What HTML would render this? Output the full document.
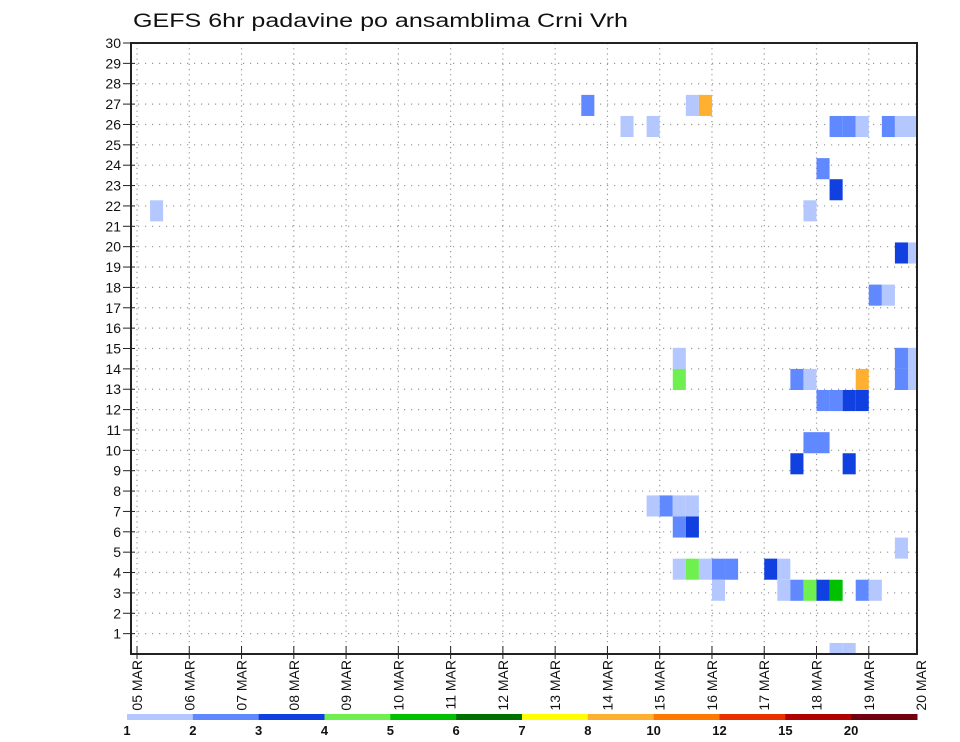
<!DOCTYPE html>
<html><head><meta charset="utf-8"><style>
html,body{margin:0;padding:0;background:#fff;}
svg{display:block;font-family:"Liberation Sans",sans-serif;}
</style></head><body>
<svg id="chart" width="960" height="742" viewBox="0 0 960 742" xmlns="http://www.w3.org/2000/svg">
<text x="133" y="27" font-size="19" textLength="495" lengthAdjust="spacingAndGlyphs" fill="#111">GEFS 6hr padavine po ansamblima Crni Vrh</text>
<g id="grid"></g>
<g id="cells"></g>
<g id="axes"></g>
<g id="legend"></g>
</svg>
<script>
// Data: dates (x ticks), member tick labels, and cells [quarterIndex(6h step from 05 MAR 00z), memberRow, level]
const dateLabels = ["05 MAR","06 MAR","07 MAR","08 MAR","09 MAR","10 MAR","11 MAR","12 MAR","13 MAR","14 MAR","15 MAR","16 MAR","17 MAR","18 MAR","19 MAR","20 MAR"];
const yTicks = [1,2,3,4,5,6,7,8,9,10,11,12,13,14,15,16,17,18,19,20,21,22,23,24,25,26,27,28,29,30];
const legendLabels = ["1","2","3","4","5","6","7","8","10","12","15","20"];
const cellSteps   = [34,42,43, 37,39,53,54,55,57,58,59, 52, 53, 51,1, 58,59, 56,57, 41,58,59, 41,58,59, 50,51,55, 52,53,54,55, 51,52, 50,54, 39,40,41,42, 41,42, 58, 41,42,43,44,45,48,49, 44,49,50,51,52,53,55,56, 53,54];
const cellMembers = [26,26,26, 25,25,25,25,25,25,25,25, 23, 22, 21,21, 19,19, 17,17, 14,14,14, 13,13,13, 13,13,13, 12,12,12,12, 10,10, 9,9, 7,7,7,7, 6,6, 5, 4,4,4,4,4,4,4, 3,3,3,3,3,3,3,3, 0,0];
const cellLevels  = [2,1,8, 1,1,2,2,1,2,1,1, 2, 3, 1,1, 3,1, 2,1, 1,2,1, 4,2,1, 2,1,8, 2,2,3,3, 2,2, 3,3, 1,2,1,1, 2,3, 1, 1,4,1,2,2,3,1, 1,1,2,4,3,5,2,1, 1,1];
const legendColors = ["#b4c8ff","#6088ff","#1040e0","#70f050","#00c000","#007000","#ffff00","#ffb030","#ff7800","#e83000","#b00000","#700010"];
const levelColor = {1:"#b4c8ff",2:"#6088ff",3:"#1040e0",4:"#70f050",5:"#00c000",6:"#007000",7:"#ffff00",8:"#ffb030",10:"#ff7800"};

const NS="http://www.w3.org/2000/svg";
const L=131,R=917,T=43,B=654;
const x0=137, dayW=52.27;
function xDay(d){return x0+d*dayW;}
function xStep(q){return xDay(q/4);}
function yVal(v){return B-v*(B-T)/30;}
const cellH=21.08;
function cellTop(m){return 390+cellH*(12-m);}
function mk(tag,attrs,parent){const e=document.createElementNS(NS,tag);for(const k in attrs)e.setAttribute(k,attrs[k]);parent.appendChild(e);return e;}

const grid=document.getElementById('grid');
yTicks.forEach(v=>{
  const l=mk('line',{x1:L,x2:R,y1:yVal(v),y2:yVal(v),stroke:"#999","stroke-width":1.2,"stroke-dasharray":"1.2 5.8"},grid);
  
  
});
dateLabels.forEach((d,i)=>{
  const x=xDay(i); if(x>R)return;
  const l=mk('line',{x1:x,x2:x,y1:T,y2:B,stroke:"#999","stroke-width":1.2,"stroke-dasharray":"1.2 4"},grid);
  
  
});

const cells=document.getElementById('cells');
const clip=mk('clipPath',{id:"plotclip"},mk('defs',{},cells));
mk('rect',{x:L,y:T,width:R-L,height:B-T},clip);
cells.setAttribute('clip-path','url(#plotclip)');
cellSteps.forEach((q,i)=>{
  const m=cellMembers[i], lv=cellLevels[i];
  const r=mk('rect',{x:xStep(q),y:cellTop(m),width:xStep(q+1)-xStep(q),height:cellH,fill:levelColor[lv]},cells);
  
  
});

const axes=document.getElementById('axes');
const frame=mk('rect',{x:L,y:T,width:R-L,height:B-T,fill:"none",stroke:"#222","stroke-width":2},axes);


yTicks.forEach(v=>{
  const y=yVal(v);
  mk('line',{x1:L-8,x2:L+4,y1:y,y2:y,stroke:"#222","stroke-width":1},axes);
  const t=mk('text',{x:L-10,y:y+5,"font-size":14,"text-anchor":"end",fill:"#111"},axes);
  t.textContent=v;
  
  
});
dateLabels.forEach((d,i)=>{
  const x=xDay(i);
  if(x<=R) mk('line',{x1:x,x2:x,y1:B-8,y2:B+5,stroke:"#222","stroke-width":1},axes);
  const t=mk('text',{x:0,y:0,"font-size":14,"text-anchor":"end",fill:"#111",transform:`translate(${x+5},${B+6}) rotate(-90)`},axes);
  t.textContent=d;
  
  
});

const leg=document.getElementById('legend');
const lx0=127, lw=(917-127)/legendColors.length;
legendColors.forEach((c,i)=>{
  const r=mk('rect',{x:lx0+i*lw,y:714,width:lw+0.5,height:6,fill:c},leg);
  
  
});
legendLabels.forEach((s,i)=>{
  const t=mk('text',{x:lx0+i*lw,y:735,"font-size":13,"font-weight":"bold","text-anchor":"middle",fill:"#111"},leg);
  t.textContent=s;
  
  
});
</script>
</body></html>
